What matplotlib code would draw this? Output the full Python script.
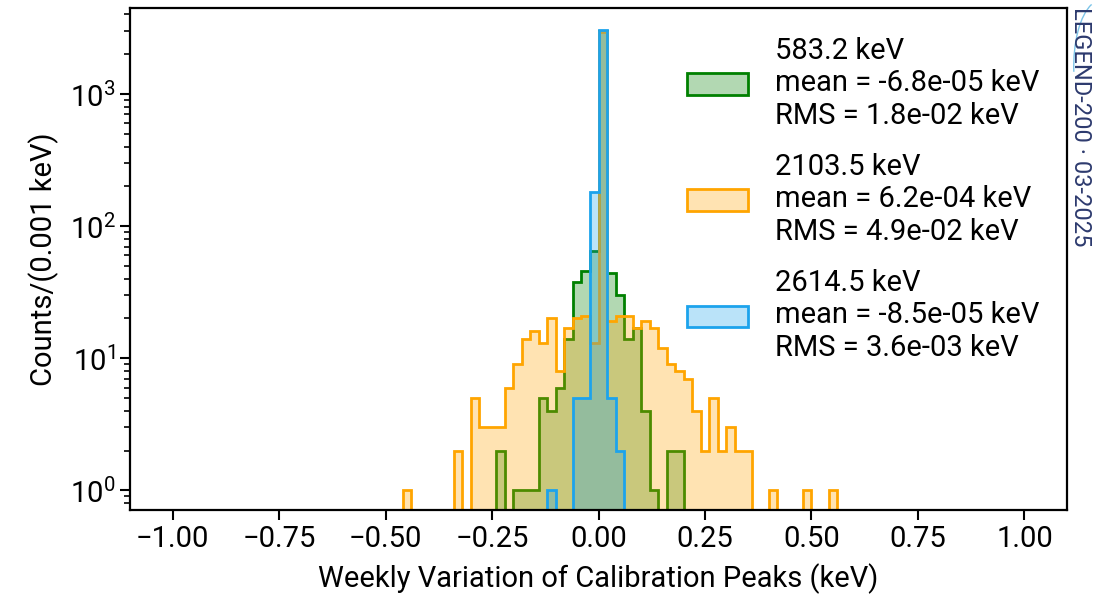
import numpy as np
import matplotlib
matplotlib.use("Agg")
import matplotlib.pyplot as plt
from matplotlib.colors import to_rgba
from matplotlib.patches import Arc

plt.rcParams['font.family'] = ['Roboto', 'DejaVu Sans']
plt.rcParams['mathtext.fontset'] = 'custom'
plt.rcParams['mathtext.rm'] = 'Roboto'
plt.rcParams['axes.linewidth'] = 1.6

# weekly shifts, 0.02 keV bins; left bin edge -> counts (empty bins left out)
bin_edges = np.round(np.arange(-1.0, 1.0001, 0.02), 2)

peak_labels = ["583.2 keV\nmean = -6.8e-05 keV\nRMS = 1.8e-02 keV",
               "2103.5 keV\nmean = 6.2e-04 keV\nRMS = 4.9e-02 keV",
               "2614.5 keV\nmean = -8.5e-05 keV\nRMS = 3.6e-03 keV"]
peak_colors = ["green", "orange", "#1ca3ec"]

tl_left = [-0.24, -0.20, -0.18, -0.16, -0.14, -0.12, -0.10, -0.08, -0.06,
           -0.04, -0.02, 0.00, 0.02, 0.04, 0.06, 0.08, 0.10, 0.12, 0.16, 0.18]
tl_counts = [2, 1, 1, 1, 5, 4, 6, 14, 38, 46, 65, 3000, 44, 30, 14, 17, 4, 1, 2, 2]

bi_left = [-0.46, -0.34, -0.30, -0.28, -0.26, -0.24, -0.22, -0.20, -0.18,
           -0.16, -0.14, -0.12, -0.10, -0.08, -0.06, -0.04, -0.02, 0.00,
           0.02, 0.04, 0.06, 0.08, 0.10, 0.12, 0.14, 0.16, 0.18, 0.20,
           0.22, 0.24, 0.26, 0.28, 0.30, 0.32, 0.34, 0.40, 0.48, 0.54]
bi_counts = [1, 2, 5, 3, 3, 3, 6, 9, 14, 16, 13, 20, 8, 17, 20, 21, 13, 2950,
             19, 21, 21, 17, 19, 17, 12, 9, 8, 7, 4, 2, 5, 2, 3, 2, 2, 1, 1, 1]

tl2_left = [-0.12, -0.06, -0.04, -0.02, 0.00, 0.02, 0.04]
tl2_counts = [1, 5, 5, 182, 3055, 5, 2]

series = [(tl_left, tl_counts), (bi_left, bi_counts), (tl2_left, tl2_counts)]


def main():
    fig = plt.figure(figsize=(11.15, 6.03), dpi=100)
    ax = fig.add_axes([0.1166, 0.1542, 0.8404, 0.8325])

    for (left, counts), lab, col in zip(series, peak_labels, peak_colors):
        centers = np.array(left) + 0.01
        ax.hist(centers, bins=bin_edges, weights=counts, histtype='stepfilled',
                log=True, facecolor=to_rgba(col, 0.3), edgecolor=col,
                linewidth=2, label=lab)

    ax.set_xlim(-1.1, 1.1)
    ax.set_ylim(0.71, 4470)
    ax.set_xticks(np.arange(-1.0, 1.01, 0.25))
    ax.tick_params(axis='both', which='major', labelsize=21, length=7, width=1.5)
    ax.tick_params(axis='y', which='minor', length=4, width=1.2)
    ax.set_xlabel("Weekly Variation of Calibration Peaks (keV)", fontsize=21,
                  labelpad=8)
    ax.set_ylabel("Counts/(0.001 keV)", fontsize=21, labelpad=8)

    ax.legend(loc='upper right', frameon=False, fontsize=21, labelspacing=0.8,
              handlelength=2.1, handleheight=0.75, handletextpad=0.9,
              bbox_to_anchor=(0.998, 0.995))

    # collaboration stamp on the right margin
    fig.text(0.959, 0.988, "LEGEND-200 · 03-2025", rotation=270, ha='left',
             va='top', color='#2d3a6e', fontsize=17)
    fig.patches.append(Arc((0.988, 0.89), 0.05, 0.22, theta1=95, theta2=200,
                           transform=fig.transFigure, color='#7cc4e8', lw=1))

    fig.savefig("out.png", dpi=100)


if __name__ == "__main__":
    main()
